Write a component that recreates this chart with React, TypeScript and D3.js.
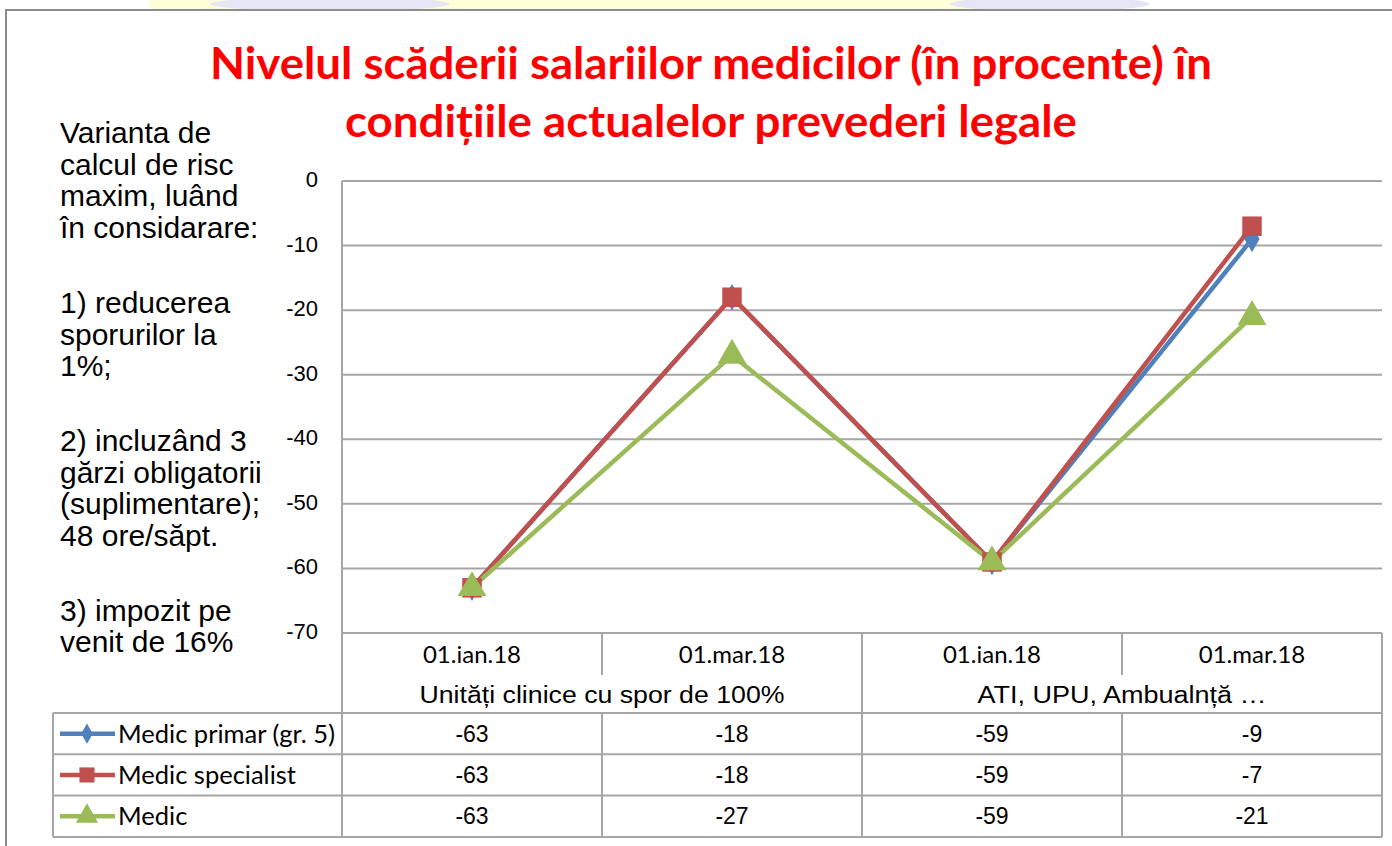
import React from "react";
import * as d3 from "d3";

const dates = ["01.ian.18", "01.mar.18", "01.ian.18", "01.mar.18"];
const groups = ["Unități clinice cu spor de 100%", "ATI, UPU, Ambualnță …"];
const seriesNames = ["Medic primar (gr. 5)", "Medic specialist", "Medic"];
const primar = [-63, -18, -59, -9];
const specialist = [-63, -18, -59, -7];
const medic = [-63, -27, -59, -21];
const yTicks = [0, -10, -20, -30, -40, -50, -60, -70];
const noteLines = [
  ["Varianta de", "calcul de risc", "maxim, luând", "în considarare:"],
  ["1) reducerea", "sporurilor la", "1%;"],
  ["2) incluzând 3", "gărzi obligatorii", "(suplimentare);", "48 ore/săpt."],
  ["3) impozit pe", "venit de 16%"],
];

const W = 1392;
const H = 846;
const colors = ["#4F81BD", "#C0504D", "#9BBB59"];
const symbols = [d3.symbolDiamond, d3.symbolSquare, d3.symbolTriangle];
const symSizes = [200, 380, 360];
const arial = "'Liberation Sans', Arial, sans-serif";
const calibri = "Lato, 'Open Sans', sans-serif";
const grid = "#A6A6A6";

export default function App() {
  const series = [primar, specialist, medic];
  const left = 342;
  const right = 1382;
  const x = d3.scaleBand<number>().domain(d3.range(dates.length)).range([left, right]);
  const y = d3.scaleLinear().domain([-70, 0]).range([633, 181]);
  const cx = (i: number) => (x(i) as number) + x.bandwidth() / 2;
  const line = d3
    .line<number>()
    .x((_, i) => cx(i))
    .y((d) => y(d));

  const rowTop = 713;
  const rowH = 41.3;
  const tableLeft = 53;

  // note text baselines
  let base = 143;
  const notes: { t: string; yy: number }[] = [];
  noteLines.forEach((p) => {
    p.forEach((t) => {
      notes.push({ t, yy: base });
      base += 31.7;
    });
    base += 43;
  });

  return (
    <svg
      width={W}
      height={H}
      style={{ position: "absolute", left: 0, top: 0, background: "#fff" }}
    >
      {/* background strip */}
      <rect x={150} y={0} width={920} height={10} fill="#FEFED8" />
      <ellipse cx={330} cy={4} rx={120} ry={7} fill="#E4E6F6" />
      <ellipse cx={1050} cy={4} rx={100} ry={7} fill="#E4E6F6" />
      <rect x={6} y={10} width={W} height={H} fill="#fff" stroke="#8C8C8C" strokeWidth={2} />

      {/* title */}
      <text
        x={711}
        y={79}
        textAnchor="middle"
        fill="#FF0000"
        fontFamily={calibri}
        fontWeight="bold"
        fontSize={44}
        textLength={1002}
        lengthAdjust="spacingAndGlyphs"
      >
        Nivelul scăderii salariilor medicilor (în procente) în
      </text>
      <text
        x={711}
        y={137}
        textAnchor="middle"
        fill="#FF0000"
        fontFamily={calibri}
        fontWeight="bold"
        fontSize={44}
        textLength={732}
        lengthAdjust="spacingAndGlyphs"
      >
        condițiile actualelor prevederi legale
      </text>

      {/* notes */}
      {notes.map((n, i) => (
        <text key={i} x={60} y={n.yy} fontFamily={arial} fontSize={30} fill="#000">
          {n.t}
        </text>
      ))}

      {/* grid + y axis */}
      {yTicks.map((t) => (
        <g key={t}>
          <line x1={left} x2={right} y1={y(t)} y2={y(t)} stroke={grid} strokeWidth={2} />
          <text x={318} y={y(t) + 6} textAnchor="end" fontFamily={arial} fontSize={22} fill="#000">
            {t}
          </text>
        </g>
      ))}
      <line x1={left} x2={left} y1={y(0)} y2={rowTop + rowH * 3} stroke={grid} strokeWidth={2} />

      {/* category table */}
      {d3.range(1, dates.length + 1).map((i) => {
        const xx = i === dates.length ? right : (x(i) as number);
        const full = i % 2 === 0;
        return (
          <line
            key={i}
            x1={xx}
            x2={xx}
            y1={y(-70)}
            y2={full ? rowTop + rowH * 3 : 675}
            stroke={grid}
            strokeWidth={2}
          />
        );
      })}
      {d3.range(1, dates.length, 2).map((i) => (
        <line key={"r" + i} x1={x(i)} x2={x(i)} y1={rowTop} y2={rowTop + rowH * 3} stroke={grid} strokeWidth={2} />
      ))}
      {dates.map((d, i) => (
        <text key={i} x={cx(i)} y={663} textAnchor="middle" fontFamily={calibri} fontSize={24} fill="#000">
          {d}
        </text>
      ))}
      {groups.map((g, i) => (
        <text
          key={g}
          x={(x(i * 2) as number) + x.bandwidth()}
          y={703}
          textAnchor="middle"
          fontFamily={arial}
          fontSize={23}
          textLength={i === 0 ? 365 : 289}
          lengthAdjust="spacingAndGlyphs"
          fill="#000"
        >
          {g}
        </text>
      ))}
      {d3.range(4).map((r) => (
        <line
          key={r}
          x1={tableLeft}
          x2={right}
          y1={rowTop + r * rowH}
          y2={rowTop + r * rowH}
          stroke={grid}
          strokeWidth={2}
        />
      ))}
      <line x1={tableLeft} x2={tableLeft} y1={rowTop} y2={rowTop + rowH * 3} stroke={grid} strokeWidth={2} />

      {/* data rows */}
      {series.map((s, k) => {
        const ry = rowTop + k * rowH + rowH / 2;
        return (
          <g key={k}>
            <line x1={60} x2={115} y1={ry} y2={ry} stroke={colors[k]} strokeWidth={4.5} />
            <path
              d={d3.symbol().type(symbols[k]).size(symSizes[k] * 0.6)() || ""}
              transform={`translate(87,${ry})`}
              fill={colors[k]}
            />
            <text x={118} y={ry + 9} fontFamily={calibri} fontSize={25.5} fill="#000">
              {seriesNames[k]}
            </text>
            {s.map((v, i) => (
              <text key={i} x={cx(i)} y={ry + 8} textAnchor="middle" fontFamily={arial} fontSize={23} fill="#000">
                {v}
              </text>
            ))}
          </g>
        );
      })}

      {/* lines */}
      {series.map((s, k) => (
        <path key={k} d={line(s) || ""} fill="none" stroke={colors[k]} strokeWidth={4.5} strokeLinejoin="round" />
      ))}
      {series.map((s, k) =>
        s.map((v, i) => (
          <path
            key={k + "-" + i}
            d={d3.symbol().type(symbols[k]).size(symSizes[k])() || ""}
            transform={`translate(${cx(i)},${y(v)})`}
            fill={colors[k]}
          />
        ))
      )}
    </svg>
  );
}
